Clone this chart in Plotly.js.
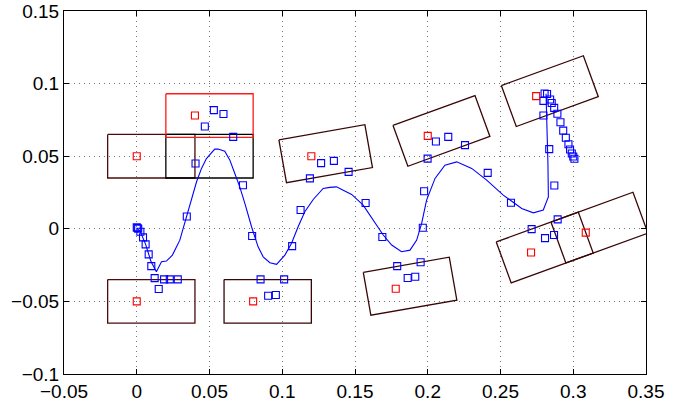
<!DOCTYPE html>
<html>
<head>
<meta charset="utf-8">
<script src="https://cdn.plot.ly/plotly-3.0.1.min.js"></script>
<style>html,body{margin:0;padding:0;background:#fff;}#chart{width:692px;height:404px;}</style>
</head>
<body>
<div id="chart"></div>
<script>
// Trajectory line
const lineX = [0, 0.0025, 0.0061, 0.0098, 0.0135, 0.017, 0.0204, 0.0245, 0.0296, 0.033, 0.0365, 0.0411, 0.0445, 0.0479, 0.0536, 0.0559, 0.0605, 0.064, 0.0674, 0.0708, 0.0743, 0.0789, 0.0834, 0.0869, 0.0915, 0.0961, 0.1018, 0.1064, 0.1109, 0.1155, 0.1213, 0.1281, 0.1327, 0.1373, 0.1419, 0.1477, 0.1556, 0.1625, 0.1694, 0.1752, 0.182, 0.1878, 0.1924, 0.1958, 0.1992, 0.205, 0.2118, 0.2199, 0.2302, 0.2405, 0.2519, 0.2646, 0.2726, 0.2794, 0.2829, 0.2826, 0.2819, 0.2813];
const lineY = [0.0005, -0.002, -0.0107, -0.0226, -0.0296, -0.0227, -0.0222, -0.0181, -0.0078, 0.0037, 0.0163, 0.0324, 0.0416, 0.0484, 0.0549, 0.0549, 0.0535, 0.0473, 0.0381, 0.0289, 0.0175, 0.0014, -0.0124, -0.0193, -0.0234, -0.0245, -0.0181, -0.01, 0.0014, 0.0117, 0.0202, 0.0278, 0.0285, 0.0289, 0.0266, 0.0237, 0.0163, 0.006, -0.0043, -0.0112, -0.0158, -0.0147, -0.0078, 0.0037, 0.0198, 0.0347, 0.0438, 0.0461, 0.0416, 0.0335, 0.0232, 0.014, 0.011, 0.0129, 0.022, 0.045, 0.07, 0.093];

// Blue sample points
const blueX = [0, 0.0005, 0.001, 0.0025, 0.0043, 0.0061, 0.0082, 0.01, 0.0123, 0.0151, 0.0188, 0.0227, 0.0282, 0.0344, 0.0404, 0.0468, 0.053, 0.0596, 0.0663, 0.073, 0.0793, 0.0851, 0.0903, 0.0956, 0.1013, 0.1068, 0.1126, 0.119, 0.1267, 0.1355, 0.1456, 0.1573, 0.1688, 0.179, 0.1862, 0.1914, 0.1951, 0.1966, 0.1975, 0.1999, 0.2056, 0.2141, 0.2256, 0.2412, 0.2572, 0.2714, 0.2806, 0.2868, 0.2893, 0.287, 0.2835, 0.2795, 0.2795, 0.2803, 0.282, 0.2841, 0.2852, 0.2869, 0.2891, 0.2912, 0.2931, 0.2949, 0.2967, 0.2978, 0.299, 0.3, 0.3008];
const blueY = [0.001, 0.0005, 0, -0.002, -0.0059, -0.0107, -0.0176, -0.0257, -0.034, -0.0415, -0.0348, -0.0348, -0.0348, 0.0085, 0.045, 0.0705, 0.0817, 0.0791, 0.0633, 0.03, -0.005, -0.0348, -0.0461, -0.0456, -0.0348, -0.0119, 0.0129, 0.0347, 0.0452, 0.0468, 0.0392, 0.0178, -0.0056, -0.0257, -0.0339, -0.033, -0.023, 0.0007, 0.0259, 0.0483, 0.0601, 0.0633, 0.0576, 0.0385, 0.0179, -0.0002, -0.0064, -0.0043, 0.0065, 0.0298, 0.0549, 0.078, 0.0881, 0.0932, 0.0928, 0.089, 0.0866, 0.0833, 0.0792, 0.0734, 0.0676, 0.0627, 0.0582, 0.0546, 0.0519, 0.0498, 0.0482];

// Vehicle poses (reference point, heading in degrees)
const poseX = [0, 0.04, 0.04, 0, 0.08, 0.12, 0.2, 0.178, 0.2745, 0.271, 0.3086];
const poseY = [0.05, 0.05, 0.078, -0.05, -0.05, 0.05, 0.064, -0.0413, 0.0914, -0.0163, -0.0026];
const poseDeg = [0, 0, 0, 0, 0, 10, 20, 10, 20, 20, 20];
const poseMarked = [true, false, true, true, true, true, true, true, true, true, true];

// Tick labels
const xTickVals = [-0.05, 0, 0.05, 0.1, 0.15, 0.2, 0.25, 0.3, 0.35];
const xTickText = ["\u22120.05", "0", "0.05", "0.1", "0.15", "0.2", "0.25", "0.3", "0.35"];
const yTickVals = [-0.1, -0.05, 0, 0.05, 0.1, 0.15];
const yTickText = ["\u22120.1", "\u22120.05", "0", "0.05", "0.1", "0.15"];

// Box geometry (vehicle footprint relative to reference point)
const BACK = -0.02, FRONT = 0.04, HALFW = 0.015;
const boxColors = ["#4a0c0c", "#000000", "#ff1a1a", "#4a0c0c", "#3a0505", "#3a0505", "#3a0505", "#3a0505", "#3a0505", "#3a0505", "#3a0505"];

const traces = [];
const local = [[BACK, HALFW], [FRONT, HALFW], [FRONT, -HALFW], [BACK, -HALFW], [BACK, HALFW]];
for (let i = 0; i < poseX.length; i++) {
  const t = poseDeg[i] * Math.PI / 180, c = Math.cos(t), s = Math.sin(t);
  const bx = [], by = [];
  local.forEach(p => { bx.push(poseX[i] + p[0]*c - p[1]*s); by.push(poseY[i] + p[0]*s + p[1]*c); });
  traces.push({x: bx, y: by, type: 'scatter', mode: 'lines', line: {color: boxColors[i], width: 1.3}, hoverinfo: 'skip'});
}
traces.push({x: lineX, y: lineY, type: 'scatter', mode: 'lines', line: {color: '#0000ff', width: 1.1}});
traces.push({x: blueX, y: blueY, type: 'scatter', mode: 'markers', marker: {symbol: 'square-open', size: 7, color: '#0000ff', line: {width: 1.1, color: '#0000ff'}}});
const rx = [], ry = [];
for (let i = 0; i < poseX.length; i++) if (poseMarked[i]) { rx.push(poseX[i]); ry.push(poseY[i]); }
traces.push({x: rx, y: ry, type: 'scatter', mode: 'markers', marker: {symbol: 'square-open', size: 7, color: '#ff0000', line: {width: 1.1, color: '#ff0000'}}});

const axisCommon = {
  showline: true, linecolor: '#000', linewidth: 1, mirror: 'ticks',
  ticks: 'inside', ticklen: 5, tickcolor: '#000', tickwidth: 1,
  showgrid: true, gridcolor: '#777777', griddash: '1px,4px', gridwidth: 1,
  zeroline: false, tickfont: {family: 'Liberation Sans, Arial, sans-serif', size: 19, color: '#000'}
};
const layout = {
  width: 692, height: 404,
  margin: {l: 64, r: 46, t: 11, b: 30},
  paper_bgcolor: '#fff', plot_bgcolor: '#fff',
  showlegend: false,
  xaxis: Object.assign({}, axisCommon, {range: [-0.05, 0.35], tickvals: xTickVals, ticktext: xTickText}),
  yaxis: Object.assign({}, axisCommon, {range: [-0.1, 0.15], tickvals: yTickVals, ticktext: yTickText})
};
Plotly.newPlot('chart', traces, layout, {staticPlot: true, displayModeBar: false});
</script>
</body>
</html>
